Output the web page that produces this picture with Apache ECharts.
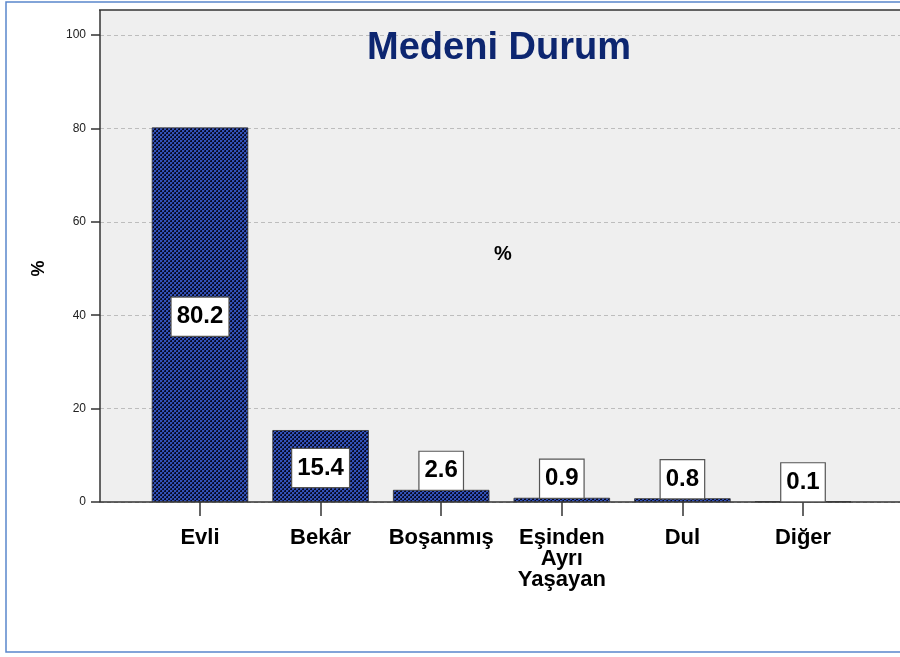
<!DOCTYPE html>
<html>
<head>
<meta charset="utf-8">
<script src="https://cdn.jsdelivr.net/npm/echarts@6/dist/echarts.min.js"></script>
<style>html,body{margin:0;padding:0;background:#fff;}#c{width:900px;height:657px;}</style>
</head>
<body>
<div id="c"></div>
<script>
const categories = ['Evli', 'Bekâr', 'Boşanmış', 'Eşinden\nAyrı\nYaşayan', 'Dul', 'Diğer'];
const percentValues = [80.2, 15.4, 2.6, 0.9, 0.8, 0.1];
const yTicks = [0, 20, 40, 60, 80, 100];
const titleText = 'Medeni Durum';
const axisNameText = '%';

const FONT = '"Liberation Sans", Arial, sans-serif';

// hatch pattern
const pc = document.createElement('canvas');
pc.width = 4; pc.height = 4;
const ctx = pc.getContext('2d');
ctx.fillStyle = '#070b26';
ctx.fillRect(0, 0, 4, 4);
ctx.fillStyle = '#3352b8';
ctx.fillRect(0, 0, 2, 2);
ctx.fillRect(2, 2, 2, 2);
ctx.fillStyle = '#17246a';
ctx.fillRect(2, 0, 1, 1);
ctx.fillRect(0, 2, 1, 1);

const chart = echarts.init(document.getElementById('c'), null, {renderer: 'canvas'});

const data = percentValues.map((v, i) => ({
  value: v,
  label: i < 2 ? {position: 'inside', offset: [0, 2]} : {position: 'top', distance: 0}
}));

chart.setOption({
  animation: false,
  backgroundColor: '#ffffff',
  textStyle: {fontFamily: FONT},
  graphic: [
    {type: 'rect', z: -100, silent: true, shape: {x: 6, y: 2, width: 1000, height: 650},
     style: {fill: '#ffffff', stroke: '#5a86cc', lineWidth: 1.5}},
    {type: 'rect', z: -90, silent: true, shape: {x: 100, y: 10, width: 900, height: 492},
     style: {fill: '#efefef'}},
    {type: 'line', z: 50, silent: true, shape: {x1: 99, y1: 10, x2: 1000, y2: 10},
     style: {stroke: '#333', lineWidth: 1.5}},
    {type: 'line', z: 50, silent: true, shape: {x1: 100, y1: 10, x2: 100, y2: 502},
     style: {stroke: '#333', lineWidth: 1.5}},
    {type: 'text', z: 50, x: 499, y: 49,
     style: {text: titleText, fill: '#0d2670', font: 'bold 38px ' + FONT, textAlign: 'center', textVerticalAlign: 'middle'}},
    {type: 'text', z: 50, x: 503, y: 254,
     style: {text: axisNameText, fill: '#000', font: 'bold 20px ' + FONT, textAlign: 'center', textVerticalAlign: 'middle'}}
  ],
  grid: [
    {left: 139.7, top: 35, width: 723.6, height: 467},
    {left: 100, top: 35, width: 900, height: 467}
  ],
  xAxis: [
    {
      gridIndex: 0, type: 'category', data: categories,
      axisLine: {show: false},
      axisTick: {show: true, alignWithLabel: true, interval: 0, length: 14, lineStyle: {color: '#333', width: 1.5}},
      axisLabel: {interval: 0, color: '#000', fontSize: 22, fontWeight: 'bold', fontFamily: FONT, margin: 25, lineHeight: 21}
    },
    {
      gridIndex: 1, type: 'value', min: 0, max: 1,
      axisLine: {show: true, lineStyle: {color: '#333', width: 1.5}},
      axisTick: {show: false}, axisLabel: {show: false}, splitLine: {show: false}
    }
  ],
  yAxis: [
    {
      gridIndex: 0, type: 'value', min: yTicks[0], max: yTicks[yTicks.length - 1], interval: 20,
      offset: 39.7,
      name: axisNameText, nameLocation: 'middle', nameGap: 52, nameRotate: 90,
      nameTextStyle: {color: '#000', fontSize: 18, fontWeight: 'bold', fontFamily: FONT},
      axisLine: {show: false},
      axisTick: {show: true, inside: false, length: 9, lineStyle: {color: '#333', width: 1.5}},
      axisLabel: {color: '#222', fontSize: 12, fontFamily: FONT, margin: 14},
      splitLine: {show: false}
    },
    {
      gridIndex: 1, type: 'value', min: yTicks[0], max: yTicks[yTicks.length - 1], interval: 20,
      axisLine: {show: false}, axisTick: {show: false}, axisLabel: {show: false},
      splitLine: {show: true, lineStyle: {color: '#bdbdbd', type: [4, 3], width: 1}}
    }
  ],
  series: [{
    type: 'bar', xAxisIndex: 0, yAxisIndex: 0,
    data: data,
    barCategoryGap: '20%',
    itemStyle: {color: {image: pc, repeat: 'repeat'}, borderColor: '#333', borderWidth: 0.8},
    label: {
      show: true,
      formatter: p => p.value.toFixed(1),
      color: '#000', fontSize: 24, fontWeight: 'bold', fontFamily: FONT,
      backgroundColor: '#ffffff', borderColor: '#555', borderWidth: 1.2,
      padding: [7, 5, 7, 5]
    }
  }]
});
</script>
</body>
</html>
